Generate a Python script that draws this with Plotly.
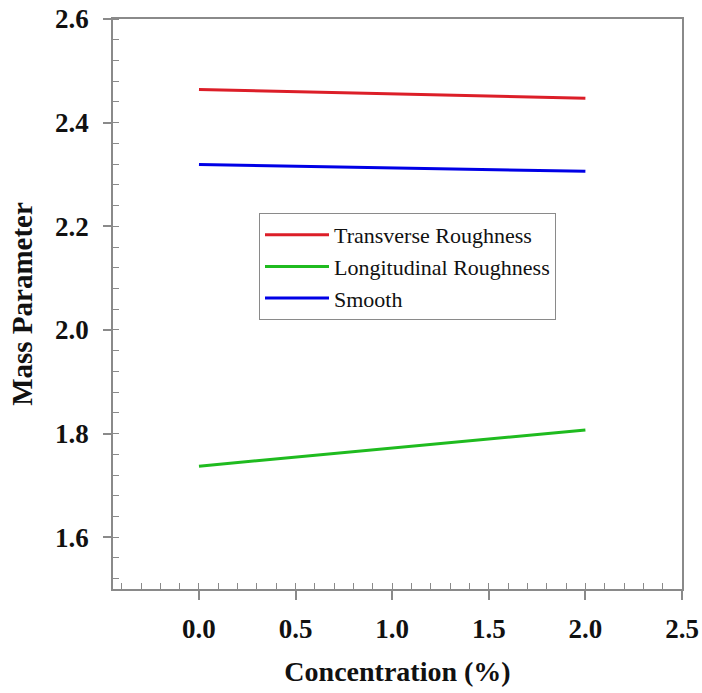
import plotly.graph_objects as go

concentration = [0.0, 2.0]
transverse = [2.464, 2.447]
longitudinal = [1.737, 1.807]
smooth = [2.319, 2.306]
series_names = ["Transverse Roughness", "Longitudinal Roughness", "Smooth"]
series_colors = ["#dc1e28", "#1fbb1f", "#0000e6"]
x_ticks = [0.0, 0.5, 1.0, 1.5, 2.0, 2.5]
y_ticks = [1.6, 1.8, 2.0, 2.2, 2.4, 2.6]

fig = go.Figure()
for name, vals, col in zip(series_names, [transverse, longitudinal, smooth], series_colors):
    fig.add_trace(go.Scatter(x=concentration, y=vals, mode="lines", name=name,
                             line=dict(color=col, width=3)))

axis_col = "#8a8a8a"
serif = "Liberation Serif"

fig.update_layout(
    width=702, height=693,
    margin=dict(l=113, r=20, t=19, b=104),
    paper_bgcolor="white", plot_bgcolor="white",
    font=dict(family=serif, color="black"),
    showlegend=True,
    legend=dict(x=0.2566, y=0.6596, xanchor="left", yanchor="top",
                bgcolor="white", bordercolor=axis_col, borderwidth=1,
                font=dict(family=serif, size=22, color="#111111"),
                itemwidth=64, tracegroupgap=0),
)

fig.update_xaxes(
    range=[-0.445, 2.5], tickvals=x_ticks, ticktext=[f"{v:.1f}" for v in x_ticks],
    automargin=False, ticklabeloverflow="allow",
    showgrid=False, zeroline=False, showline=True, mirror=True,
    linecolor=axis_col, linewidth=1.5,
    ticks="outside", ticklen=9, tickcolor=axis_col, tickwidth=1.5,
    ticklabelstandoff=6,
    tickfont=dict(family=serif, size=27, color="#111111", weight="bold"),
    minor=dict(dtick=0.1, tick0=0, ticks="inside", ticklen=6, tickcolor=axis_col, tickwidth=1, showgrid=False),
    title=dict(text="<b>Concentration (%)</b>", font=dict(family=serif, size=28, color="#111111"), standoff=18),
)
fig.update_yaxes(
    range=[1.5, 2.6], tickvals=y_ticks, ticktext=[f"{v:.1f}" for v in y_ticks],
    automargin=False, ticklabeloverflow="allow",
    showgrid=False, zeroline=False, showline=True, mirror=True,
    linecolor=axis_col, linewidth=1.5,
    ticks="outside", ticklen=8, tickcolor=axis_col, tickwidth=1.5,
    ticklabelstandoff=9,
    tickfont=dict(family=serif, size=27, color="#111111", weight="bold"),
    minor=dict(dtick=0.04, tick0=1.6, ticks="inside", ticklen=6, tickcolor=axis_col, tickwidth=1, showgrid=False),
    title=dict(text="<b>Mass Parameter</b>", font=dict(family=serif, size=29, color="#111111"), standoff=14),
)

fig.write_html("out.html", config={"displayModeBar": False},
               post_script="document.body.style.margin='0';document.body.style.overflow='hidden';")
